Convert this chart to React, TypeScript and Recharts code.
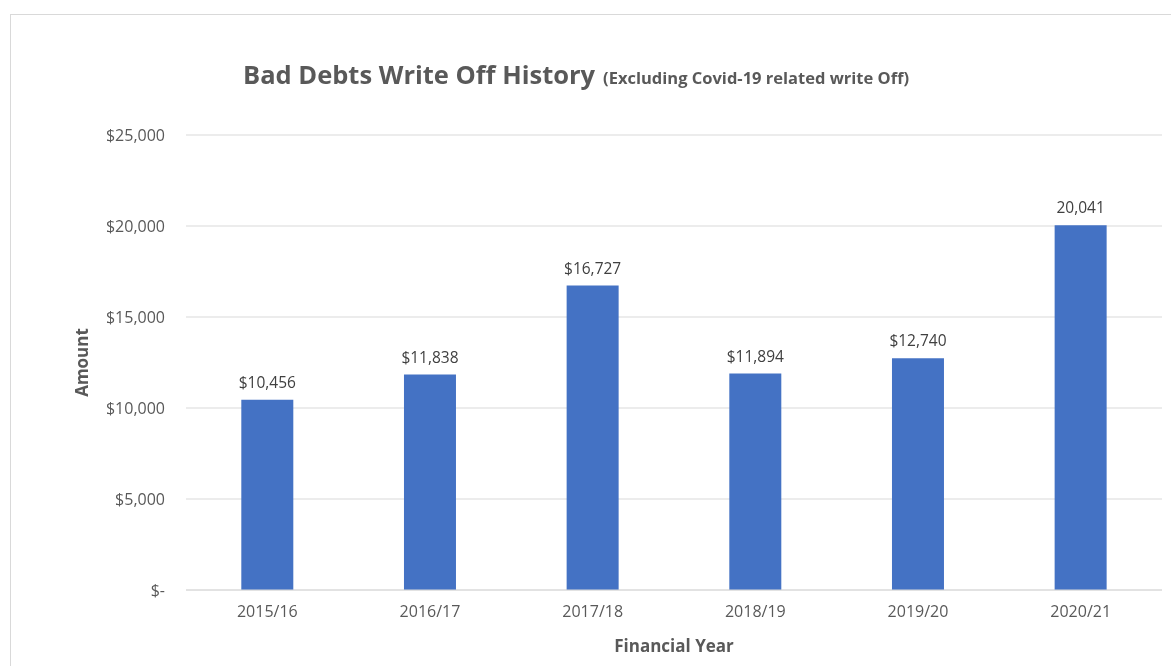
import { Bar, BarChart, XAxis, YAxis, CartesianGrid, LabelList } from "recharts"

const years = ["2015/16", "2016/17", "2017/18", "2018/19", "2019/20", "2020/21"]
const amounts = [10456, 11838, 16727, 11894, 12740, 20041]
const valueLabels = ["$10,456", "$11,838", "$16,727", "$11,894", "$12,740", "20,041"]
const yTicks = [0, 5000, 10000, 15000, 20000, 25000]

const data = years.map((year, i) => ({ year, amount: amounts[i], label: valueLabels[i] }))

const FONT = "'Open Sans', 'Noto Sans', sans-serif"
const GREY = "#595959"

// accounting style: zero shows as "$-"
const money = (v: number) => (v === 0 ? "$-" : "$" + v.toLocaleString("en-US"))

export default function App() {
  return (
    <div style={{ position: "relative", width: 1155, height: 650, fontFamily: FONT }}>
      {/* chart area frame, runs off the right and bottom of the page */}
      <div
        style={{
          position: "fixed",
          left: 10,
          top: 14,
          width: 1300,
          height: 800,
          borderTop: "1px solid #d9d9d9",
          borderLeft: "1px solid #d9d9d9",
        }}
      />
      <div
        style={{
          position: "absolute",
          left: 235,
          top: 54,
          whiteSpace: "nowrap",
          color: GREY,
          fontWeight: 700,
          lineHeight: 1,
        }}
      >
        <span style={{ fontSize: 25.5 }}>Bad Debts Write Off History</span>
        <span style={{ fontSize: 16.5, marginLeft: 8 }}>(Excluding Covid-19 related write Off)</span>
      </div>
      <BarChart
        width={1155}
        height={650}
        data={data}
        margin={{ top: 127, right: 1, left: 0, bottom: 0 }}
        barCategoryGap="34%"
        style={{ position: "absolute", left: 0, top: 0 }}
      >
        <CartesianGrid vertical={false} stroke="#d9d9d9" />
        <XAxis
          dataKey="year"
          height={68}
          tickLine={false}
          axisLine={{ stroke: "#d9d9d9" }}
          tickMargin={10}
          tick={{ fill: GREY, fontSize: 16, fontFamily: FONT }}
          label={{
            value: "Financial Year",
            position: "insideBottom",
            offset: 6,
            fill: GREY,
            fontSize: 17,
            fontWeight: 700,
            fontFamily: FONT,
          }}
        />
        <YAxis
          width={178}
          domain={[0, 25000]}
          ticks={yTicks}
          tickFormatter={money}
          tickLine={false}
          axisLine={false}
          tickMargin={15}
          tick={{ fill: GREY, fontSize: 16, fontFamily: FONT }}
          label={{
            value: "Amount",
            angle: -90,
            position: "center",
            dx: -15,
            fill: GREY,
            fontSize: 17,
            fontWeight: 700,
            fontFamily: FONT,
          }}
        />
        <Bar dataKey="amount" fill="#4472c4" isAnimationActive={false}>
          <LabelList
            dataKey="label"
            position="top"
            offset={12}
            fill="#404040"
            fontSize={15.5}
            fontFamily={FONT}
          />
        </Bar>
      </BarChart>
    </div>
  )
}
